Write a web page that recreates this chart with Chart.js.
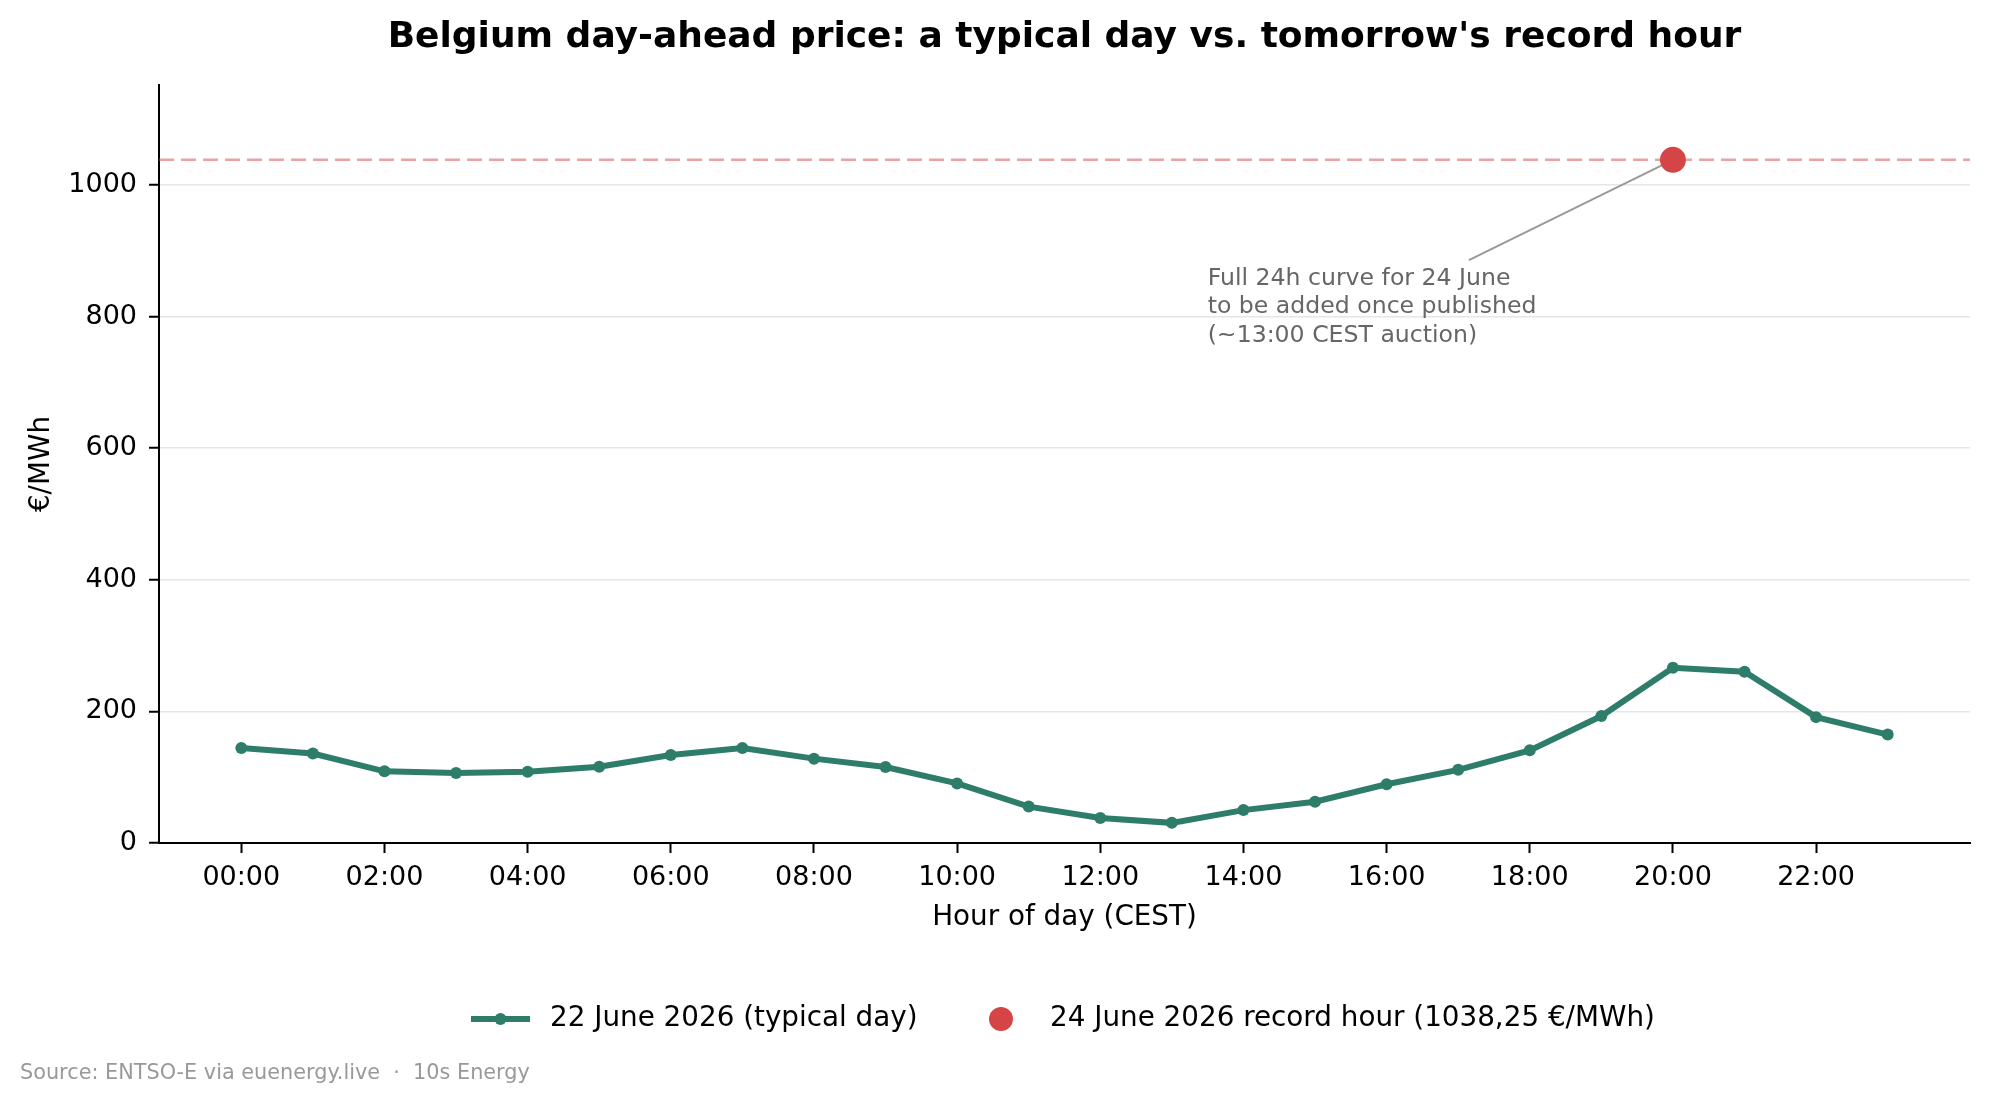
<!DOCTYPE html>
<html lang="en">
<head>
  <meta charset="UTF-8">
  <title>Belgium day-ahead price</title>
  <script src="https://cdn.jsdelivr.net/npm/chart.js"></script>
  <style>
    body { margin: 0; background: #fff; }
    #wrap { position: relative; width: 1989px; height: 1102px; }
  </style>
</head>
<body>
  <div id="wrap"><canvas id="priceChart"></canvas></div>

  <script>
    // hourly day-ahead prices, 22 June 2026 (€/MWh)
    const hours = [0, 1, 2, 3, 4, 5, 6, 7, 8, 9, 10, 11, 12, 13, 14, 15, 16, 17, 18, 19, 20, 21, 22, 23];
    const prices = [144.5, 135.9, 108.9, 106.4, 108.4, 116, 133.8, 144.5, 128.2, 115.5, 90.6, 55.3,
                    38, 30.6, 50, 62.8, 89.3, 111.2, 140.8, 192.9, 266.3, 260.2, 191.3, 164.8];

    // record hour for 24 June
    const recordHour = 20;
    const recordPrice = 1038.25;

    const xTickValues = [0, 2, 4, 6, 8, 10, 12, 14, 16, 18, 20, 22];
    const xTickLabels = ['00:00', '02:00', '04:00', '06:00', '08:00', '10:00', '12:00', '14:00', '16:00', '18:00', '20:00', '22:00'];
    const yTickValues = [0, 200, 400, 600, 800, 1000];

    const chartTitle = "Belgium day-ahead price: a typical day vs. tomorrow's record hour";
    const seriesLabels = ['22 June 2026 (typical day)', '24 June 2026 record hour (1038,25 €/MWh)'];
    const noteLines = ['Full 24h curve for 24 June', 'to be added once published', '(~13:00 CEST auction)'];
    const sourceText = 'Source: ENTSO-E via euenergy.live  \u00b7  10s Energy';

    const FONT = "'DejaVu Sans', sans-serif";
    const GREEN = '#2e7d6b';
    const RED = '#d64545';

    const extras = {
      id: 'extras',
      beforeDatasetsDraw(chart) {
        const { ctx, chartArea, scales } = chart;
        const y = scales.y.getPixelForValue(recordPrice);
        ctx.save();
        // dashed reference line at the record price
        ctx.strokeStyle = 'rgba(214, 69, 69, 0.5)';
        ctx.lineWidth = 2.5;
        ctx.setLineDash([15, 7]);
        ctx.beginPath();
        ctx.moveTo(chartArea.left, y);
        ctx.lineTo(chartArea.right, y);
        ctx.stroke();
        // annotation arrow
        ctx.setLineDash([]);
        ctx.strokeStyle = '#999';
        ctx.lineWidth = 2;
        ctx.beginPath();
        ctx.moveTo(scales.x.getPixelForValue(17.15), scales.y.getPixelForValue(886));
        ctx.lineTo(scales.x.getPixelForValue(recordHour), y);
        ctx.stroke();
        ctx.restore();
      },
      afterDraw(chart) {
        const { ctx, chartArea, scales } = chart;
        ctx.save();
        // title, centred over the plot area
        ctx.fillStyle = '#000';
        ctx.font = 'bold 36px ' + FONT;
        ctx.textAlign = 'center';
        ctx.textBaseline = 'alphabetic';
        ctx.fillText(chartTitle, (chartArea.left + chartArea.right) / 2, 46.5);

        // annotation text
        ctx.fillStyle = '#666';
        ctx.font = '23.6px ' + FONT;
        ctx.textAlign = 'left';
        ctx.textBaseline = 'middle';
        const nx = scales.x.getPixelForValue(13.5);
        const ny = scales.y.getPixelForValue(858);
        noteLines.forEach((t, i) => ctx.fillText(t, nx, ny + i * 28.6));

        // legend
        const ly = 1019;
        ctx.strokeStyle = GREEN;
        ctx.lineWidth = 6;
        ctx.beginPath();
        ctx.moveTo(471, ly);
        ctx.lineTo(530, ly);
        ctx.stroke();
        ctx.fillStyle = GREEN;
        ctx.beginPath();
        ctx.arc(500.5, ly, 6, 0, Math.PI * 2);
        ctx.fill();
        ctx.fillStyle = RED;
        ctx.beginPath();
        ctx.arc(1001, ly, 12, 0, Math.PI * 2);
        ctx.fill();
        ctx.fillStyle = '#000';
        ctx.font = '27.8px ' + FONT;
        ctx.fillText(seriesLabels[0], 550, ly);
        ctx.fillText(seriesLabels[1], 1050, ly);

        // source line
        ctx.fillStyle = '#999';
        ctx.font = '20.8px ' + FONT;
        ctx.fillText(sourceText, 20, 1073.5);
        ctx.restore();
      }
    };

    new Chart(document.getElementById('priceChart'), {
      type: 'line',
      data: {
        datasets: [
          {
            label: seriesLabels[0],
            data: hours.map((h, i) => ({ x: h, y: prices[i] })),
            borderColor: GREEN,
            backgroundColor: GREEN,
            borderWidth: 6,
            pointRadius: 6,
            pointBorderWidth: 0,
            tension: 0
          },
          {
            label: seriesLabels[1],
            data: [{ x: recordHour, y: recordPrice }],
            showLine: false,
            backgroundColor: RED,
            borderColor: RED,
            pointRadius: 13,
            pointBorderWidth: 0
          }
        ]
      },
      options: {
        responsive: true,
        maintainAspectRatio: false,
        animation: false,
        layout: { padding: { left: 0, right: 19, top: 85, bottom: 159 } },
        plugins: {
          legend: { display: false },
          tooltip: { enabled: false },
          title: { display: false }
        },
        scales: {
          x: {
            type: 'linear',
            min: -1.15,
            max: 24.15,
            afterBuildTicks: s => { s.ticks = xTickValues.map(v => ({ value: v })); },
            afterFit: s => { s.height = 100; },
            ticks: {
              autoSkip: false,
              maxRotation: 0,
              color: '#000',
              padding: 9,
              font: { family: FONT, size: 27 },
              callback: v => xTickLabels[xTickValues.indexOf(v)]
            },
            grid: { drawOnChartArea: false, drawTicks: true, tickLength: 10, tickColor: '#000', tickWidth: 2 },
            border: { display: true, color: '#000', width: 2 },
            title: {
              display: true,
              text: 'Hour of day (CEST)',
              color: '#000',
              font: { family: FONT, size: 27.8 },
              padding: { top: 0, bottom: 9 }
            }
          },
          y: {
            min: 0,
            max: 1152,
            afterBuildTicks: s => { s.ticks = yTickValues.map(v => ({ value: v })); },
            afterFit: s => { s.width = 159; },
            ticks: {
              color: '#000',
              padding: 12,
              font: { family: FONT, size: 27 },
              callback: v => String(v)
            },
            grid: { color: '#e6e6e6', lineWidth: 1.5, tickLength: 10, tickColor: '#000', tickWidth: 2 },
            border: { display: true, color: '#000', width: 2 },
            title: {
              display: true,
              text: '€/MWh',
              color: '#000',
              font: { family: FONT, size: 27.8 },
              padding: { top: 25, bottom: 0 }
            }
          }
        }
      },
      plugins: [extras]
    });
  </script>
</body>
</html>
